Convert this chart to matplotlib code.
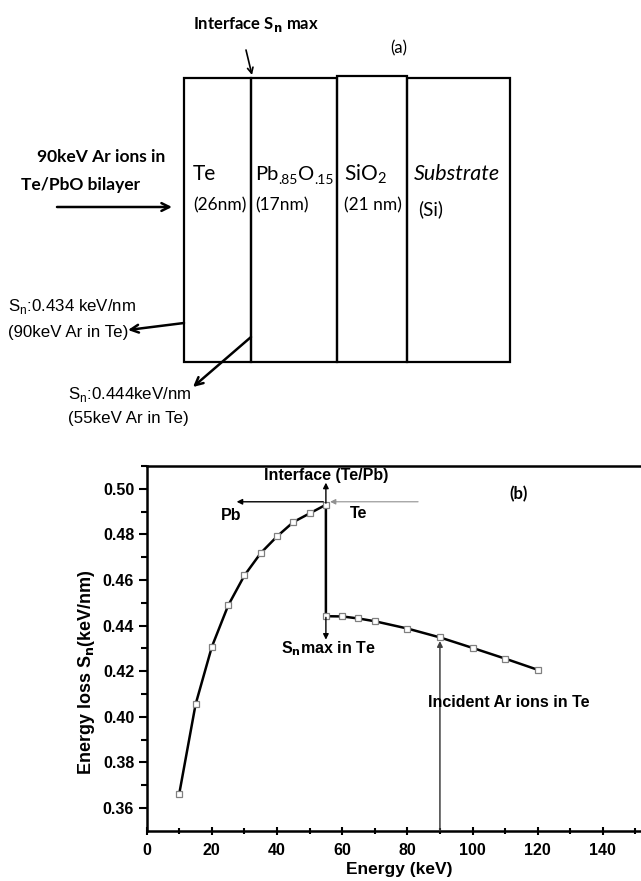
import numpy as np
import matplotlib
matplotlib.use('Agg')
from matplotlib import pyplot as plt
from matplotlib.patches import Rectangle

# panel (b) data: nuclear energy loss vs Ar energy
energy = [10, 15, 20, 25, 30, 35, 40, 45, 50, 55,
          55, 60, 65, 70, 80, 90, 100, 110, 120]
sn = [0.3663, 0.4054, 0.4307, 0.4488, 0.4620, 0.4718, 0.4791, 0.4854, 0.4892, 0.4930,
      0.4441, 0.4440, 0.4431, 0.4419, 0.4387, 0.4348, 0.4302, 0.4255, 0.4206]
xticks = [0, 20, 40, 60, 80, 100, 120, 140]
yticks = [0.36, 0.38, 0.40, 0.42, 0.44, 0.46, 0.48, 0.50]

# panel (a) layer boxes (drawing units = pixels)
layer_edges = [184, 251, 337, 407, 510]
layer_names = ['Te', None, r'SiO$_\mathregular{2}$', 'Substrate']
layer_thick = ['(26nm)', '(17nm)', '(21 nm)', '(Si)']

W, H = 641, 881
fig = plt.figure(figsize=(W / 100, H / 100), dpi=100)
renderer = fig.canvas.get_renderer()

calib = ['Lato', 'DejaVu Sans']
narrow = ['Liberation Sans Narrow', 'Liberation Sans', 'DejaVu Sans']
arial = ['Liberation Sans', 'DejaVu Sans']

# ---------------- panel (a)
axa = fig.add_axes([0, 1 - 460 / H, 1, 460 / H])
axa.set_xlim(0, W)
axa.set_ylim(460, 0)
axa.axis('off')

for i in range(len(layer_names)):
    top = 76 if i == 2 else 78
    axa.add_patch(Rectangle((layer_edges[i], top), layer_edges[i + 1] - layer_edges[i], 362 - top,
                            fill=False, ec='black', lw=1.6))

name_x = [193, 255, 344, 414]
thick_x = [193, 255, 344, 418]
name_size = [15, 14.5, 15, 15.5]
for i in range(len(layer_names)):
    if layer_names[i] is not None:
        st = 'italic' if layer_names[i] == 'Substrate' else 'normal'
        axa.text(name_x[i], 174, layer_names[i], family=calib, fontsize=name_size[i], style=st,
                 ha='left', va='center')
    axa.text(thick_x[i], 205 if i < 3 else 209, layer_thick[i], family=calib,
             fontsize=12.5 if i < 3 else 13.5, ha='left', va='center')

# Pb.85O.15 written piece by piece (mathtext pads the dots)
x = name_x[1]
for s, fs, dy in [('Pb', 14.5, 0), ('.85', 10, 4), ('O', 14.5, 0), ('.15', 10, 4)]:
    t = axa.text(x, 180 + dy, s, family=calib, fontsize=fs, ha='left', va='baseline')
    x += t.get_window_extent(renderer).width

axa.text(256, 25, r'Interface S$_\mathbf{n}$ max', family=calib, fontsize=12, weight='bold',
         ha='center', va='center')
axa.text(399, 48, '(a)', family=calib, fontsize=12, ha='center', va='center')
axa.text(37, 157, '90keV Ar ions in', family=calib, fontsize=12.5, weight='bold',
         ha='left', va='center')
axa.text(21, 185, 'Te/PbO bilayer', family=calib, fontsize=12.5, weight='bold',
         ha='left', va='center')

ap = dict(arrowstyle='->', lw=1.8, color='black', shrinkA=0, shrinkB=0,
          mutation_scale=14)
axa.annotate('', xy=(172, 207), xytext=(57, 207), arrowprops=ap)
axa.annotate('', xy=(252, 75), xytext=(246, 50),
             arrowprops=dict(ap, lw=1.2, mutation_scale=10))
axa.annotate('', xy=(128, 330), xytext=(184, 323), arrowprops=ap)
axa.annotate('', xy=(193, 387), xytext=(251, 337), arrowprops=ap)

axa.text(8, 307, r'S$_\mathregular{n}$:0.434 keV/nm', family=narrow, fontsize=12.2,
         ha='left', va='center')
axa.text(8, 333, '(90keV Ar in Te)', family=narrow, fontsize=12.2, ha='left', va='center')
axa.text(68, 395, r'S$_\mathregular{n}$:0.444keV/nm', family=narrow, fontsize=12.2,
         ha='left', va='center')
axa.text(68, 419, '(55keV Ar in Te)', family=narrow, fontsize=12.2, ha='left', va='center')

# ---------------- panel (b)
axb = fig.add_axes([146.7 / W, (H - 830.7) / H, 505 / W, (830.7 - 466) / H])
axb.set_xlim(0, 155)
axb.set_ylim(0.35, 0.51)
axb.plot(energy, sn, color='black', lw=1.8, marker='s', ms=4.5,
         mfc='white', mec='#808080', mew=0.9, zorder=3)

axb.set_xticks(xticks)
axb.set_yticks(yticks)
axb.set_xticks(np.arange(10, 155, 20), minor=True)
axb.set_yticks(np.arange(0.37, 0.51, 0.02), minor=True)
axb.set_yticklabels(['%.2f' % v for v in yticks])
for lab in axb.get_xticklabels() + axb.get_yticklabels():
    lab.set_family(arial)
    lab.set_weight('bold')
    lab.set_fontsize(11.5)
axb.tick_params(axis='y', which='both', direction='out', width=1.5, pad=3)
axb.tick_params(axis='x', which='both', direction='inout', width=1.5, pad=6)
axb.tick_params(which='major', length=6)
axb.tick_params(which='minor', length=4)
axb.tick_params(top=False, right=False)
for s in axb.spines.values():
    s.set_linewidth(1.8)

axb.set_xlabel('Energy (keV)', family=arial, weight='bold', fontsize=12.5, labelpad=3)
axb.set_ylabel(r'Energy loss S$_\mathbf{n}$(keV/nm)', family=arial, weight='bold',
               fontsize=13)
axb.yaxis.set_label_coords(-0.098, 0.435)

# annotations
thin = dict(arrowstyle='-|>', lw=1.0, color='black', shrinkA=0, shrinkB=0,
            mutation_scale=8)
axb.annotate('', xy=(55, 0.5027), xytext=(55, 0.4937), arrowprops=thin)
axb.annotate('', xy=(55, 0.4338), xytext=(55, 0.4436), arrowprops=thin)
axb.annotate('', xy=(27.6, 0.4943), xytext=(54.2, 0.4943), arrowprops=thin)
axb.annotate('', xy=(56.3, 0.4943), xytext=(83.3, 0.4943),
             arrowprops=dict(thin, color='#909090', lw=0.8))
axb.annotate('', xy=(90, 0.4332), xytext=(90, 0.35),
             arrowprops=dict(thin, color='#404040', lw=1.1))

axb.text(55.2, 0.5060, 'Interface (Te/Pb)', family=arial, weight='bold', fontsize=11.5,
         ha='center', va='center')
axb.text(25.8, 0.4884, 'Pb', family=arial, weight='bold', fontsize=11.5, ha='center', va='center')
axb.text(64.9, 0.4890, 'Te', family=arial, weight='bold', fontsize=11.5, ha='center', va='center')
axb.text(55.7, 0.4300, r'S$_\mathbf{n}$max in Te', family=arial, weight='bold', fontsize=11.5,
         ha='center', va='center')
axb.text(86.3, 0.4061, 'Incident Ar ions in Te', family=arial, weight='bold', fontsize=11.5,
         ha='left', va='center')
axb.text(114.2, 0.4975, '(b)', family=calib, weight='bold', fontsize=12, ha='center', va='center')

fig.savefig('out.png', dpi=100)
